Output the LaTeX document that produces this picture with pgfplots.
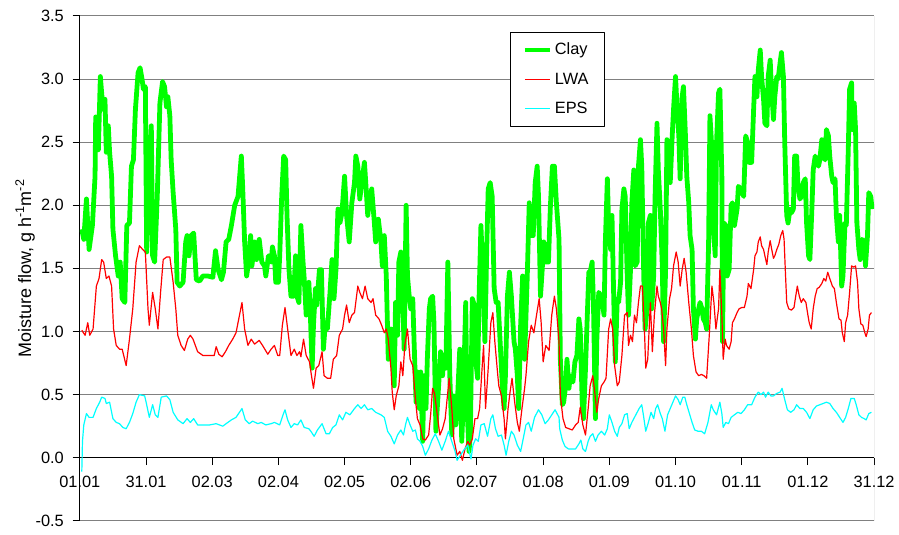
\documentclass[border=0pt]{standalone}
\usepackage{pgfplots}
\pgfplotsset{compat=1.18}
\usepackage{fontspec}
\setmainfont{Liberation Sans}
\definecolor{clay}{RGB}{0,255,0}
\definecolor{lwa}{RGB}{255,0,0}
\definecolor{eps}{RGB}{0,255,255}
\definecolor{gridc}{RGB}{128,128,128}

\begin{document}
\begin{tikzpicture}
\begin{axis}[
  scale only axis, width=597pt, height=379.5pt,
  xmin=0, xmax=12, ymin=-0.5, ymax=3.5,
  axis x line=middle, axis y line=left,
  axis line style={-, black, line width=0.75pt},
  hide obscured x ticks=false, hide obscured y ticks=false,
  xtick={0,...,12},
  xticklabels={01.01,31.01,02.03,02.04,02.05,02.06,02.07,01.08,01.09,01.10,01.11,01.12,31.12},
  ytick={-0.5,0,0.5,1,1.5,2,2.5,3,3.5},
  ymajorgrids, grid style={gridc, line width=0.75pt},
  xtick align=outside, ytick align=outside,
  major tick length=5.5pt,
  every tick/.style={black, line width=0.75pt},
  xticklabel shift=5pt, yticklabel shift=3pt,
  tick label style={font=\fontsize{12.3}{14}\selectfont},
  /pgf/number format/assume math mode=true,
  yticklabel style={/pgf/number format/.cd, fixed, fixed zerofill, precision=1},
  ylabel={Moisture flow, g h\textsuperscript{-1}m\textsuperscript{-2}},
  every axis y label/.style={at={(axis description cs:-0.069,0.5)}, rotate=90, anchor=center, font=\fontsize{13.5}{16}\selectfont},
  legend style={at={(axis description cs:0.541,0.968)}, anchor=north west, draw=black, fill=white,
    font=\fontsize{12.3}{14}\selectfont, row sep=8pt, inner xsep=9.5pt, inner ysep=6pt},
  legend cell align=left,
  legend image code/.code={\draw[#1, line cap=butt] (0cm,0cm) -- (0.66cm,0cm);},
  line join=round,
]
\draw[gridc, line width=0.75pt] (rel axis cs:1,0) -- (rel axis cs:1,1);

% Clay
\addplot[clay, line width=3.6pt] coordinates {
(0.03,1.81)(0.06,1.73)(0.10,2.05)(0.14,1.65)(0.19,1.84)(0.23,2.23)(0.24,2.70)(0.28,2.44)(0.31,3.02)(0.35,2.76)(0.38,2.84)(0.40,2.42)(0.43,2.63)(0.45,2.42)(0.48,2.23)(0.50,1.81)(0.54,1.60)(0.58,1.44)(0.61,1.55)(0.64,1.26)(0.68,1.23)(0.71,1.84)(0.75,1.86)(0.78,2.31)(0.81,2.36)(0.84,2.76)(0.88,3.05)(0.91,3.09)(0.94,3.00)(0.96,2.92)(0.99,2.94)(1.01,1.63)(1.03,1.89)(1.05,2.28)(1.08,2.63)(1.10,1.60)(1.13,1.55)(1.17,2.07)(1.21,2.81)(1.25,2.98)(1.28,2.94)(1.31,2.78)(1.33,2.86)(1.36,2.71)(1.38,2.36)(1.41,2.10)(1.45,1.81)(1.47,1.39)(1.51,1.36)(1.56,1.39)(1.60,1.71)(1.62,1.76)(1.65,1.60)(1.68,1.76)(1.72,1.78)(1.76,1.41)(1.81,1.40)(1.86,1.44)(1.93,1.44)(2.01,1.43)(2.05,1.64)(2.09,1.49)(2.14,1.41)(2.17,1.47)(2.21,1.71)(2.25,1.73)(2.29,1.84)(2.34,2.00)(2.39,2.07)
(2.44,2.39)(2.46,2.15)(2.49,1.71)(2.52,1.44)(2.55,1.55)(2.58,1.76)(2.60,1.52)(2.64,1.71)(2.67,1.57)(2.71,1.73)(2.75,1.55)(2.79,1.52)(2.81,1.44)(2.85,1.60)(2.89,1.55)(2.91,1.67)(2.94,1.60)(2.96,1.39)(3.00,1.39)(3.02,1.60)(3.05,2.07)(3.08,2.39)(3.11,2.36)(3.13,1.92)(3.16,1.49)(3.19,1.28)(3.23,1.28)(3.26,1.60)(3.28,1.28)(3.31,1.23)(3.34,1.84)(3.37,1.57)(3.39,1.42)(3.42,1.13)(3.46,1.39)(3.48,1.18)(3.51,0.71)(3.53,1.05)(3.56,1.34)(3.58,1.21)(3.62,1.49)(3.65,1.49)(3.68,0.86)(3.71,1.07)(3.74,1.02)(3.78,1.31)(3.81,1.57)(3.84,1.26)(3.87,1.49)(3.90,1.97)(3.93,1.86)(3.96,1.94)(4.00,2.23)(4.03,1.92)(4.07,1.71)(4.11,2.02)(4.15,2.18)(4.17,2.39)(4.20,2.31)(4.23,2.05)(4.26,2.18)(4.30,2.34)(4.32,2.18)(4.35,1.92)(4.37,2.02)(4.41,2.13)(4.45,1.86)(4.47,1.71)(4.51,1.89)(4.55,1.71)(4.57,1.52)(4.60,1.76)(4.63,1.44)(4.66,0.78)(4.70,1.02)(4.72,0.86)(4.75,0.57)(4.77,1.23)(4.80,0.97)(4.82,1.55)
(4.85,1.63)(4.88,1.23)(4.90,0.86)(4.93,2.00)(4.95,1.44)(4.98,1.26)(5.00,1.18)(5.03,1.26)(5.05,0.92)(5.08,0.44)(5.10,0.68)(5.13,0.39)(5.15,0.68)(5.18,0.13)(5.20,0.65)(5.23,0.39)(5.25,0.78)(5.28,1.18)(5.30,1.26)(5.33,1.28)(5.35,1.07)(5.38,0.21)(5.40,0.39)(5.43,0.65)(5.45,0.84)(5.48,0.65)(5.50,0.81)(5.53,0.71)(5.56,1.55)(5.59,0.65)(5.62,0.18)(5.65,0.49)(5.68,0.26)(5.70,0.39)(5.74,0.86)(5.77,0.13)(5.79,0.39)(5.83,1.23)(5.85,0.39)(5.88,0.05)(5.90,0.18)(5.93,1.26)(5.96,1.21)(5.98,0.78)(6.01,0.63)(6.03,1.23)(6.06,1.84)(6.09,1.44)(6.12,0.92)(6.15,1.71)(6.17,2.13)(6.20,2.18)(6.23,2.07)(6.26,1.34)(6.29,1.23)(6.32,1.23)(6.35,0.92)(6.38,0.60)(6.41,0.39)(6.43,0.65)(6.46,1.28)(6.49,1.47)(6.52,1.28)(6.56,0.92)(6.58,0.86)(6.61,0.65)(6.63,0.39)(6.66,1.05)(6.69,1.44)(6.72,0.78)(6.76,1.44)(6.79,2.02)(6.82,1.76)(6.85,1.76)(6.88,2.18)(6.91,2.31)(6.93,2.07)(6.96,1.28)(6.98,1.44)(7.01,1.71)(7.04,1.55)(7.08,1.55)(7.11,2.00)(7.14,2.31)(7.17,2.31)(7.20,2.02)(7.24,1.73)
(7.26,0.78)(7.29,0.42)(7.31,0.44)(7.34,0.57)(7.36,0.78)(7.39,0.55)(7.41,0.65)(7.45,0.60)(7.48,0.76)(7.51,0.81)(7.54,1.10)(7.56,1.02)(7.59,0.44)(7.61,0.31)(7.64,0.71)(7.66,1.02)(7.69,1.47)(7.71,1.47)(7.74,1.55)(7.76,1.23)(7.79,0.31)(7.81,0.92)(7.84,1.31)(7.88,1.28)(7.92,1.13)(7.94,1.71)(7.97,2.21)(7.99,1.84)(8.02,1.65)(8.04,1.92)(8.07,1.18)(8.09,0.76)(8.12,1.26)(8.14,1.23)(8.17,1.39)(8.19,1.97)(8.22,2.13)(8.24,2.07)(8.27,1.44)(8.29,1.13)(8.32,1.49)(8.34,2.02)(8.37,2.28)(8.39,1.52)(8.42,1.55)(8.44,2.31)(8.47,2.52)(8.49,2.31)(8.52,1.44)(8.54,1.02)(8.57,1.18)(8.59,1.86)(8.62,1.92)(8.64,1.18)(8.67,1.44)(8.69,2.05)(8.72,2.65)(8.74,2.28)(8.77,1.97)(8.80,1.52)(8.82,0.92)(8.85,1.49)(8.87,2.52)(8.90,2.44)(8.92,2.18)(8.95,2.55)(8.97,2.76)(9.00,3.02)(9.02,2.81)(9.05,2.55)(9.07,2.21)(9.10,2.86)(9.12,2.94)(9.15,2.55)(9.17,2.23)(9.20,2.02)(9.22,1.76)(9.25,1.65)(9.27,1.18)(9.30,0.94)(9.32,1.10)(9.35,1.18)(9.37,1.23)(9.40,1.18)(9.42,1.10)(9.45,1.07)(9.47,1.02)(9.50,1.71)(9.52,2.71)(9.55,2.44)(9.57,1.84)(9.60,1.60)(9.62,2.50)(9.65,2.89)
(9.67,2.92)(9.70,2.23)(9.71,0.92)(9.73,1.86)(9.76,1.84)(9.78,1.44)(9.81,1.49)(9.84,2.00)(9.86,2.02)(9.89,1.84)(9.93,1.97)(9.95,2.15)(9.99,2.13)(10.03,2.07)(10.06,2.55)(10.09,2.50)(10.11,2.34)(10.15,2.34)(10.18,2.76)(10.20,3.02)(10.23,2.86)(10.25,3.07)(10.28,3.23)(10.30,3.02)(10.33,2.84)(10.35,2.65)(10.38,2.63)(10.40,3.02)(10.43,3.15)(10.45,2.92)(10.48,2.68)(10.50,2.86)(10.53,3.02)(10.55,3.00)(10.58,3.13)(10.60,3.21)(10.63,3.02)(10.65,2.50)(10.68,1.92)(10.70,1.86)(10.73,1.97)(10.75,1.94)(10.78,1.97)(10.80,2.39)(10.83,2.39)(10.85,2.15)(10.88,2.05)(10.90,2.07)(10.93,2.18)(10.96,2.21)(10.98,1.86)(11.01,1.60)(11.03,1.57)(11.06,1.97)(11.08,2.28)(11.11,2.39)(11.13,2.34)(11.16,2.31)(11.18,2.36)(11.21,2.52)(11.23,2.39)(11.26,2.36)(11.28,2.60)(11.31,2.55)(11.33,2.39)(11.36,2.23)(11.38,2.18)(11.41,2.21)(11.43,1.92)(11.46,1.71)(11.48,1.92)(11.51,1.36)(11.53,1.44)(11.56,1.86)(11.58,1.84)(11.61,2.44)(11.63,2.92)(11.66,2.97)(11.67,2.60)(11.70,2.81)(11.72,2.60)(11.74,1.86)(11.77,1.65)(11.79,1.57)(11.82,1.73)(11.85,1.71)(11.87,1.52)(11.90,1.76)(11.92,2.10)(11.95,2.07)(11.97,1.97)
};
\addlegendentry{Clay}

% LWA
\addplot[lwa, line width=0.9pt] coordinates {
(0.03,1.01)(0.08,0.97)(0.12,1.07)(0.15,0.97)(0.20,1.02)(0.25,1.36)(0.29,1.42)(0.33,1.57)(0.36,1.55)(0.40,1.42)(0.44,1.44)(0.48,1.36)(0.51,1.02)(0.55,0.89)(0.60,0.86)(0.64,0.86)(0.70,0.73)(0.75,0.94)(0.80,1.18)(0.85,1.55)(0.90,1.68)(0.95,1.65)(0.99,1.63)(1.03,1.18)(1.05,1.05)(1.10,1.31)(1.14,1.18)(1.18,1.02)(1.22,1.31)(1.26,1.57)(1.31,1.59)(1.36,1.59)(1.41,1.39)(1.45,1.18)(1.48,0.97)(1.53,0.89)(1.58,0.85)(1.63,0.94)(1.67,0.97)(1.71,0.94)(1.78,0.84)(1.86,0.81)(1.96,0.81)(2.03,0.81)(2.06,0.88)(2.10,0.82)(2.15,0.80)(2.20,0.84)(2.25,0.89)(2.31,0.94)(2.36,0.99)
(2.45,1.23)(2.49,1.02)(2.54,0.89)(2.59,0.94)(2.64,0.90)(2.71,0.93)(2.76,0.89)(2.84,0.82)(2.89,0.86)(2.94,0.89)(2.99,0.81)(3.02,0.81)(3.06,1.05)(3.10,1.19)(3.14,1.02)(3.19,0.81)(3.24,0.86)(3.28,0.81)(3.32,0.84)(3.34,0.80)(3.38,0.94)(3.42,0.81)(3.47,0.76)(3.50,0.65)(3.53,0.55)(3.57,0.71)(3.61,0.73)(3.66,0.84)(3.69,0.65)(3.74,0.63)(3.79,0.63)(3.83,0.78)(3.88,0.81)(3.92,0.97)(3.97,1.02)(4.00,1.13)(4.03,1.21)(4.07,1.07)(4.11,1.13)(4.15,1.15)(4.20,1.36)(4.23,1.31)(4.27,1.26)(4.31,1.36)(4.35,1.26)(4.40,1.23)(4.43,1.26)(4.47,1.13)(4.52,1.10)(4.56,1.05)(4.60,0.99)(4.63,1.02)(4.66,0.94)(4.70,0.71)(4.72,0.52)(4.75,0.38)(4.78,0.49)(4.82,0.57)
(4.85,0.76)(4.88,0.65)(4.91,0.89)(4.95,1.02)(4.99,0.78)(5.03,0.73)(5.07,0.47)(5.10,0.31)(5.14,0.26)(5.18,0.15)(5.22,0.14)(5.27,0.18)(5.30,0.34)(5.33,0.55)(5.36,0.51)(5.40,0.34)(5.44,0.18)(5.48,0.23)(5.52,0.31)(5.55,0.47)(5.58,0.63)(5.62,0.39)(5.65,0.15)(5.70,0.02)(5.74,0.05)(5.78,-0.02)(5.82,0.07)(5.86,0.13)(5.89,0.10)(5.93,0.15)(5.97,0.31)(6.01,0.31)(6.04,0.39)(6.07,0.65)(6.10,0.89)(6.13,0.39)(6.17,0.71)(6.21,1.07)(6.24,1.15)(6.27,0.92)(6.31,0.68)(6.33,0.57)(6.37,0.49)(6.41,0.31)(6.43,0.15)(6.47,0.39)(6.50,0.52)(6.53,0.63)(6.57,0.44)(6.61,0.28)(6.64,0.21)(6.68,0.39)(6.72,0.55)(6.74,0.65)(6.78,0.92)(6.82,1.05)(6.86,0.99)(6.90,1.13)(6.94,1.26)(6.97,1.07)(7.00,0.76)(7.04,0.89)(7.09,0.85)(7.13,1.13)(7.17,1.28)(7.20,1.18)(7.24,0.92)
(7.26,0.49)(7.30,0.31)(7.34,0.24)(7.39,0.23)(7.44,0.22)(7.49,0.26)(7.53,0.28)(7.56,0.40)(7.60,0.26)(7.64,0.18)(7.68,0.39)(7.71,0.57)(7.75,0.65)(7.78,0.52)(7.81,0.36)(7.84,0.47)(7.88,0.57)(7.92,0.60)(7.95,0.63)(7.99,1.02)(8.02,1.10)(8.05,1.02)(8.08,0.73)(8.12,0.57)(8.15,0.60)(8.19,0.81)(8.23,1.13)(8.27,1.15)(8.29,0.89)(8.32,0.97)(8.35,0.92)(8.38,1.13)(8.41,1.07)(8.44,1.23)(8.47,1.36)(8.50,1.36)(8.53,1.02)(8.55,0.71)(8.58,0.78)(8.62,1.23)(8.65,0.84)(8.68,1.13)(8.72,1.36)(8.74,1.28)(8.77,1.23)(8.79,1.18)(8.82,1.02)(8.85,0.73)(8.87,1.02)(8.91,1.26)(8.94,1.34)(8.97,1.52)(9.01,1.63)(9.04,1.55)(9.07,1.36)(9.10,1.49)(9.13,1.58)(9.16,1.47)(9.20,1.23)(9.24,1.02)(9.27,0.81)(9.31,0.68)(9.35,0.65)(9.39,0.66)(9.43,0.65)(9.47,0.63)(9.51,0.97)(9.55,1.36)(9.58,1.23)(9.61,1.02)(9.65,1.18)
(9.67,1.49)(9.70,1.13)(9.72,0.78)(9.75,0.94)(9.77,0.89)(9.81,0.86)(9.84,0.92)(9.86,1.07)(9.89,1.10)(9.93,1.15)(9.96,1.18)(10.00,1.19)(10.04,1.19)(10.08,1.28)(10.10,1.38)(10.14,1.34)(10.18,1.49)(10.20,1.60)(10.23,1.63)(10.25,1.71)(10.28,1.75)(10.30,1.68)(10.33,1.65)(10.35,1.60)(10.38,1.53)(10.40,1.63)(10.43,1.72)(10.45,1.66)(10.48,1.58)(10.50,1.60)(10.53,1.65)(10.56,1.69)(10.59,1.76)(10.62,1.80)(10.64,1.73)(10.66,1.47)(10.68,1.23)(10.71,1.18)(10.75,1.17)(10.79,1.19)(10.81,1.26)(10.84,1.36)(10.87,1.28)(10.90,1.23)(10.93,1.26)(10.97,1.23)(11.00,1.13)(11.02,1.07)(11.05,1.02)(11.08,1.18)(11.11,1.28)(11.14,1.34)(11.17,1.35)(11.21,1.38)(11.24,1.42)(11.27,1.40)(11.30,1.47)(11.33,1.42)(11.37,1.36)(11.40,1.34)(11.43,1.23)(11.47,1.10)(11.50,1.09)(11.52,0.99)(11.55,0.92)(11.57,1.07)(11.60,1.13)(11.63,1.31)(11.66,1.52)(11.69,1.51)(11.72,1.52)(11.75,1.39)(11.77,1.18)(11.80,1.06)(11.83,1.05)(11.86,0.99)(11.88,0.96)(11.91,1.02)(11.93,1.13)(11.96,1.15)
};
\addlegendentry{LWA}

% EPS
\addplot[eps, line width=0.9pt] coordinates {
(0.03,-0.11)(0.04,0.13)(0.06,0.26)(0.10,0.35)(0.14,0.32)(0.20,0.32)(0.25,0.39)(0.30,0.44)(0.33,0.48)(0.38,0.47)(0.40,0.43)(0.45,0.44)(0.50,0.31)(0.55,0.28)(0.60,0.27)(0.65,0.24)(0.70,0.23)(0.75,0.28)(0.80,0.35)(0.85,0.44)(0.90,0.50)(0.98,0.49)(1.01,0.42)(1.05,0.32)(1.10,0.42)(1.14,0.34)(1.18,0.32)(1.23,0.48)(1.31,0.49)(1.36,0.46)(1.41,0.36)(1.48,0.30)(1.56,0.27)(1.62,0.31)(1.67,0.28)(1.72,0.31)(1.78,0.26)(1.86,0.26)(1.96,0.26)(2.06,0.27)(2.11,0.26)(2.16,0.25)(2.21,0.27)(2.29,0.30)(2.36,0.32)
(2.45,0.39)(2.50,0.30)(2.56,0.27)(2.61,0.29)(2.69,0.27)(2.74,0.28)(2.81,0.26)(2.89,0.27)(2.94,0.28)(3.02,0.26)(3.07,0.34)(3.10,0.38)(3.14,0.30)(3.19,0.24)(3.24,0.27)(3.29,0.26)(3.34,0.30)(3.39,0.24)(3.46,0.23)(3.49,0.21)(3.54,0.17)(3.59,0.22)(3.66,0.27)(3.72,0.19)(3.77,0.19)(3.82,0.24)(3.87,0.26)(3.92,0.34)(3.97,0.30)(4.02,0.36)(4.08,0.34)(4.15,0.39)(4.20,0.42)(4.25,0.39)(4.30,0.42)(4.35,0.38)(4.41,0.39)(4.47,0.36)(4.55,0.34)(4.60,0.32)(4.65,0.21)(4.70,0.17)(4.75,0.11)(4.80,0.18)
(4.85,0.22)(4.89,0.18)(4.92,0.26)(4.95,0.32)(4.99,0.26)(5.03,0.21)(5.07,0.22)(5.10,0.15)(5.14,0.13)(5.18,0.09)(5.22,0.02)(5.27,0.07)(5.32,0.14)(5.37,0.19)(5.42,0.13)(5.47,0.06)(5.52,0.13)(5.57,0.21)(5.62,0.13)(5.67,0.05)(5.70,-0.02)(5.75,0.02)(5.80,0.06)(5.86,0.10)(5.91,-0.01)(5.94,0.10)(5.98,0.15)(6.02,0.13)(6.06,0.26)(6.11,0.27)(6.16,0.17)(6.21,0.31)(6.24,0.34)(6.28,0.23)(6.32,0.17)(6.37,0.18)(6.41,0.10)(6.44,0.02)(6.48,0.13)(6.52,0.21)(6.56,0.18)(6.61,0.10)(6.66,0.05)(6.71,0.18)(6.74,0.26)(6.78,0.28)(6.82,0.21)(6.87,0.32)(6.93,0.38)(6.98,0.34)(7.03,0.27)(7.08,0.30)(7.13,0.34)(7.18,0.38)(7.24,0.32)
(7.25,0.23)(7.29,0.14)(7.33,0.09)(7.38,0.07)(7.44,0.07)(7.49,0.07)(7.54,0.11)(7.57,0.14)(7.60,0.07)(7.64,0.05)(7.68,0.13)(7.71,0.17)(7.75,0.19)(7.79,0.13)(7.83,0.18)(7.88,0.21)(7.93,0.18)(7.97,0.23)(8.00,0.34)(8.04,0.28)(8.08,0.21)(8.12,0.17)(8.15,0.24)(8.19,0.27)(8.23,0.34)(8.27,0.35)(8.30,0.23)(8.34,0.28)(8.38,0.32)(8.42,0.36)(8.45,0.39)(8.49,0.42)(8.52,0.32)(8.55,0.21)(8.59,0.28)(8.63,0.36)(8.67,0.31)(8.70,0.39)(8.73,0.42)(8.77,0.35)(8.80,0.31)(8.84,0.21)(8.88,0.34)(8.92,0.39)(8.96,0.44)(9.00,0.49)(9.04,0.46)(9.07,0.42)(9.11,0.48)(9.14,0.48)(9.17,0.42)(9.21,0.35)(9.25,0.28)(9.29,0.22)(9.34,0.21)(9.39,0.21)(9.44,0.19)(9.49,0.28)(9.54,0.42)(9.57,0.38)(9.62,0.34)
(9.67,0.44)(9.70,0.35)(9.72,0.24)(9.76,0.28)(9.80,0.27)(9.84,0.32)(9.89,0.34)(9.94,0.36)(9.99,0.35)(10.04,0.38)(10.09,0.42)(10.15,0.42)(10.20,0.48)(10.25,0.52)(10.29,0.50)(10.33,0.52)(10.36,0.48)(10.40,0.52)(10.44,0.49)(10.48,0.49)(10.53,0.51)(10.58,0.52)(10.61,0.55)(10.65,0.46)(10.69,0.38)(10.74,0.36)(10.79,0.38)(10.83,0.42)(10.88,0.39)(10.93,0.39)(10.98,0.36)(11.03,0.31)(11.08,0.38)(11.13,0.41)(11.18,0.42)(11.23,0.43)(11.28,0.44)(11.33,0.43)(11.38,0.39)(11.43,0.36)(11.48,0.32)(11.53,0.28)(11.57,0.32)(11.61,0.39)(11.65,0.47)(11.70,0.47)(11.73,0.42)(11.77,0.34)(11.81,0.32)(11.85,0.31)(11.88,0.30)(11.92,0.35)(11.96,0.36)
};
\addlegendentry{EPS}
\end{axis}
\path ([shift={(-60pt,-10.5pt)}]current axis.south west) rectangle ([shift={(17.25pt,12pt)}]current axis.north east);
\end{tikzpicture}
\end{document}
